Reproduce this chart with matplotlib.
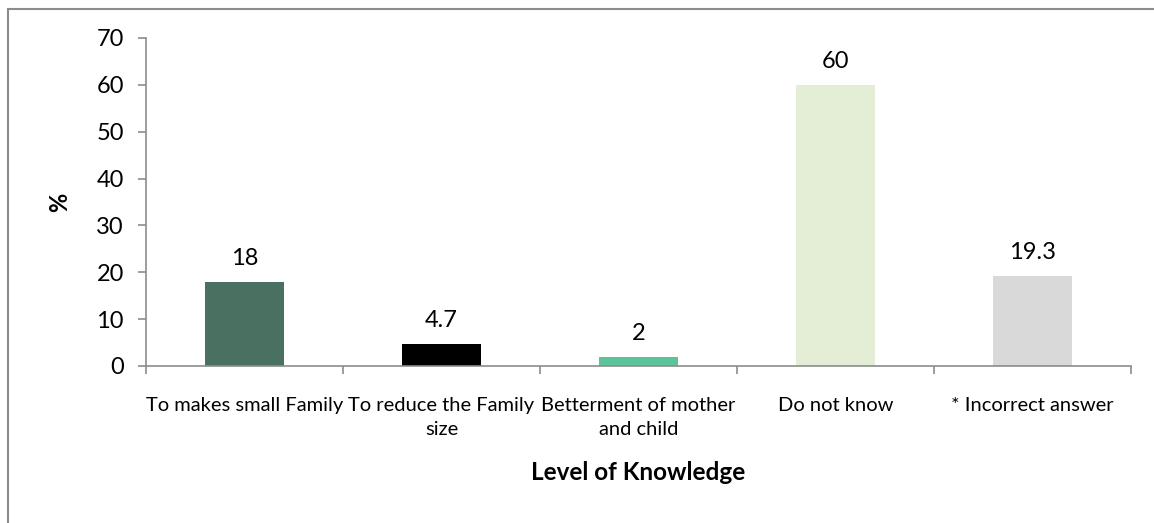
import numpy as np
import matplotlib.pyplot as plt
from matplotlib.patches import Rectangle

categories = ["To makes small Family", "To reduce the Family\nsize",
              "Betterment of mother\nand child", "Do not know", "* Incorrect answer"]
values = [18, 4.7, 2, 60, 19.3]
value_labels = ["18", "4.7", "2", "60", "19.3"]
colors = ["#4A7062", "#000000", "#5BC49A", "#E4EDD6", "#D9D9D9"]

plt.rcParams['font.family'] = ['Lato', 'DejaVu Sans']

fig = plt.figure(figsize=(11.54, 5.23), dpi=100)
# chart-area border: only its top and left edges fall inside the image
fig.patches.append(Rectangle((7.5 / 1154, -0.1), 1.2, 1 - 8.5 / 523 + 0.1,
                             transform=fig.transFigure, fill=False,
                             edgecolor="#8C8C8C", linewidth=1.5))
ax = fig.add_axes([146 / 1154, 1 - 366 / 523, 985 / 1154, 328 / 523])

x = np.arange(len(values))
ax.bar(x, values, width=0.4, color=colors)
for xi, v, lab in zip(x, values, value_labels):
    ax.annotate(lab, (xi, v), xytext=(0, 9), textcoords="offset points",
                ha="center", va="bottom", fontsize=17)

ax.set_xlim(-0.5, len(values) - 0.5)
ax.set_ylim(0, 70)
ax.set_yticks(range(0, 71, 10))
ax.tick_params(axis="y", labelsize=17, length=6, width=1.2, color="#8C8C8C", pad=10)

ax.set_xticks(np.arange(-0.5, len(values)), minor=False)
ax.set_xticklabels([])
ax.set_xticks(x, minor=True)
ax.set_xticklabels(categories, minor=True, fontsize=14.5)
for t in ax.get_xticklabels(minor=True):
    t.set_linespacing(1.55)
ax.tick_params(axis="x", which="major", length=6, width=1.2, color="#8C8C8C")
ax.tick_params(axis="x", which="minor", length=0, pad=22)

for s in ["top", "right"]:
    ax.spines[s].set_visible(False)
for s in ["left", "bottom"]:
    ax.spines[s].set_color("#8C8C8C")
    ax.spines[s].set_linewidth(1.2)

ax.set_ylabel("%", fontsize=17, fontweight="bold", labelpad=18)
ax.set_xlabel("Level of Knowledge", fontsize=17.5, fontweight="bold")
ax.xaxis.set_label_coords(0.5, -0.29)

fig.savefig("out.png", dpi=100)
